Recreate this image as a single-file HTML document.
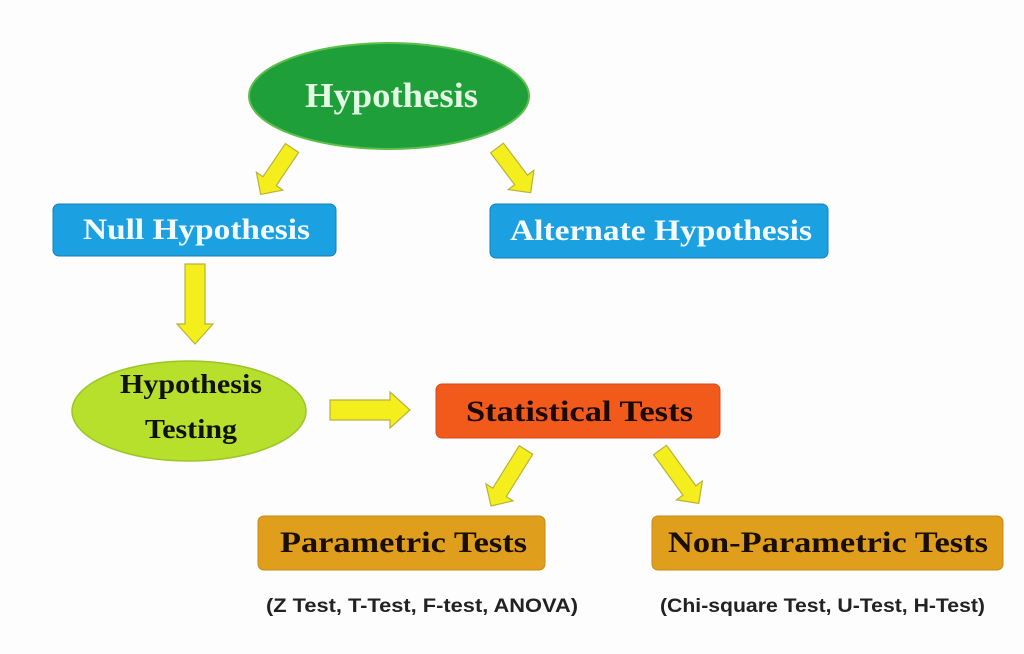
<!DOCTYPE html>
<html><head><style>
html,body{margin:0;padding:0;background:#fff;}
svg{display:block;}
.s{font-family:"Liberation Serif",serif;font-weight:bold;}
.a{fill:#f4ee1c;stroke:#b9b23a;stroke-width:1.2;}
</style></head><body>
<svg width="1024" height="654" viewBox="0 0 1024 654" xmlns="http://www.w3.org/2000/svg">
<rect width="1024" height="654" fill="#fdfdfd"/>
<defs>
<polygon id="ar" points="0,-8 40,-8 40,-16 56,0 40,16 40,8 0,8"/>
<polygon id="ar2" points="0,-10 60,-10 60,-18 80,0 60,18 60,10 0,10"/>
<polygon id="ar3" points="0,-8 50,-8 50,-16 66,0 50,16 50,8 0,8"/>
</defs>
<ellipse cx="389" cy="96" rx="140" ry="53" fill="#1f9f3a" stroke="#5cbf4a" stroke-width="2"/>
<text x="305" y="107" textLength="173" lengthAdjust="spacingAndGlyphs" class="s" font-size="35" fill="#e4f9e4">Hypothesis</text>
<use href="#ar" class="a" transform="translate(292,148) rotate(124)"/>
<use href="#ar" class="a" transform="translate(497,148) rotate(53)"/>
<rect x="53" y="204" width="283" height="52" rx="6" fill="#1ba1e2" stroke="#1580b8" stroke-width="1"/>
<text x="83" y="239" textLength="227" lengthAdjust="spacingAndGlyphs" class="s" font-size="30" fill="#f4fbff">Null Hypothesis</text>
<rect x="490" y="204" width="338" height="54" rx="6" fill="#1ba1e2" stroke="#1580b8" stroke-width="1"/>
<text x="510" y="240" textLength="302" lengthAdjust="spacingAndGlyphs" class="s" font-size="30" fill="#f4fbff">Alternate Hypothesis</text>
<use href="#ar2" class="a" transform="translate(195,264) rotate(90)"/>
<ellipse cx="189" cy="411" rx="117" ry="50" fill="#b6e02c" stroke="#9cc528" stroke-width="1.5"/>
<text x="120" y="393" textLength="142" lengthAdjust="spacingAndGlyphs" class="s" font-size="27" fill="#111">Hypothesis</text>
<text x="145" y="438" textLength="92" lengthAdjust="spacingAndGlyphs" class="s" font-size="27" fill="#111">Testing</text>
<use href="#ar2" class="a" transform="translate(330,410)"/>
<rect x="436" y="384" width="284" height="54" rx="6" fill="#f25a1c" stroke="#d8481a" stroke-width="1"/>
<text x="466" y="421" textLength="227" lengthAdjust="spacingAndGlyphs" class="s" font-size="30" fill="#1a0a05">Statistical Tests</text>
<use href="#ar3" class="a" transform="translate(526,450) rotate(122)"/>
<use href="#ar3" class="a" transform="translate(660,450) rotate(54)"/>
<rect x="258" y="516" width="287" height="54" rx="6" fill="#df9e1c" stroke="#c98a14" stroke-width="1"/>
<text x="280" y="552" textLength="247" lengthAdjust="spacingAndGlyphs" class="s" font-size="30" fill="#1a0e02">Parametric Tests</text>
<rect x="652" y="516" width="351" height="54" rx="6" fill="#df9e1c" stroke="#c98a14" stroke-width="1"/>
<text x="668" y="552" textLength="320" lengthAdjust="spacingAndGlyphs" class="s" font-size="30" fill="#1a0e02">Non-Parametric Tests</text>
<text x="266" y="612" textLength="312" lengthAdjust="spacingAndGlyphs" font-family="Liberation Sans, sans-serif" font-weight="bold" font-size="19" fill="#222">(Z Test, T-Test, F-test, ANOVA)</text>
<text x="660" y="612" textLength="325" lengthAdjust="spacingAndGlyphs" font-family="Liberation Sans, sans-serif" font-weight="bold" font-size="19" fill="#222">(Chi-square Test, U-Test, H-Test)</text>
</svg>
</body></html>
